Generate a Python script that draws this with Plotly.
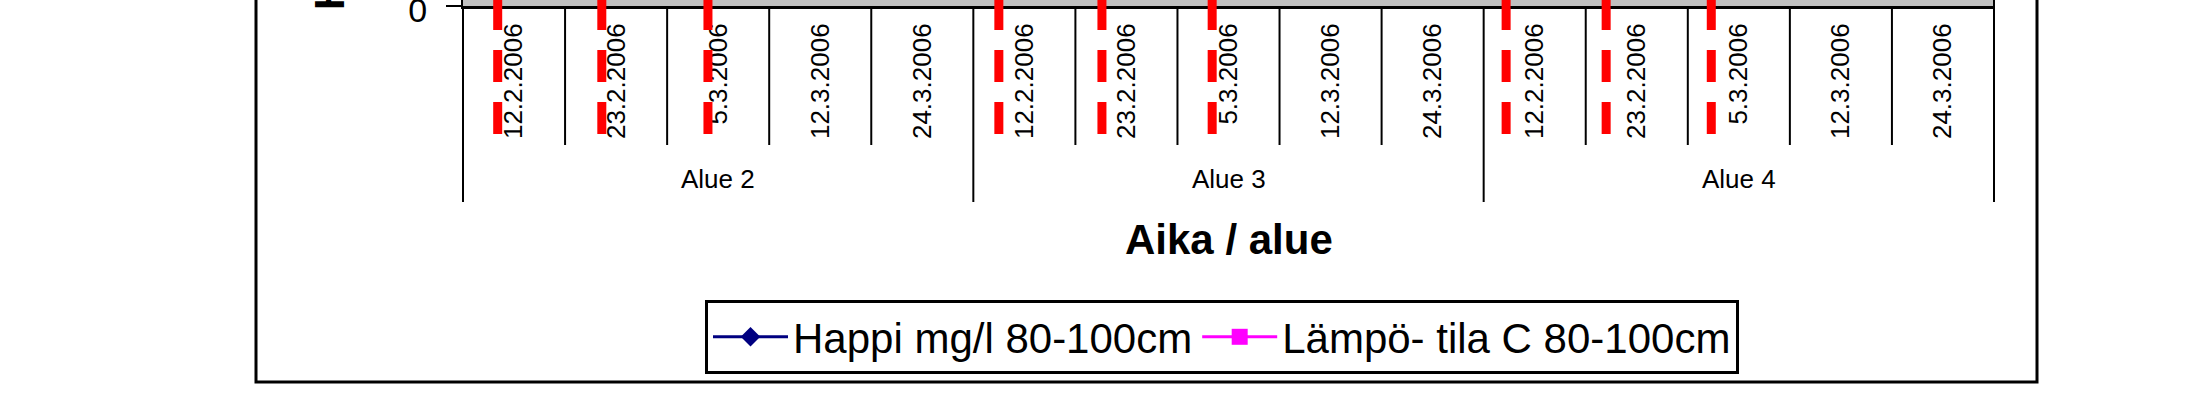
import plotly.graph_objects as go

# ---------------- data ----------------
groups = ["Alue 2", "Alue 3", "Alue 4"]
dates = ["12.2.2006", "23.2.2006", "5.3.2006", "12.3.2006", "24.3.2006"]
series_names = ["Happi mg/l 80-100cm", "Lämpö- tila C 80-100cm"]
# the series values lie above the visible crop of the chart, so none are readable
happi = [None] * 15
lampo = [None] * 15
# red dashed marker lines, position in category-index units
red_line_pos = [-0.16, 0.86, 1.90, 4.75, 5.76, 6.84, 9.72, 10.70, 11.73]
y_title = "Happi mg/l / lämpötila C"
x_title = "Aika / alue"

# ---------------- layout constants (pixels) ----------------
W, H = 2200, 413
PL, PR = 463, 1994          # plot area left / right
AXIS_Y = 6                   # y pixel of the category axis
FONT = "Arial, Liberation Sans, sans-serif"


def px_x(p):
    return (p - PL) / (PR - PL)


def px_y(p):
    return 1 - p / H


cats = [(g, d) for g in groups for d in dates]
idx = list(range(len(cats)))
n = len(cats)
per_group = len(dates)

fig = go.Figure()
fig.add_trace(go.Scatter(
    x=idx, y=happi, mode="lines+markers", name=series_names[0],
    line=dict(color="#000080", width=3),
    marker=dict(symbol="diamond", size=15, color="#000080"),
))
fig.add_trace(go.Scatter(
    x=idx, y=lampo, mode="lines+markers", name=series_names[1],
    line=dict(color="#FF00FF", width=3),
    marker=dict(symbol="square", size=16, color="#FF00FF"),
))

shapes = []
# category separators (short) and group separators (long)
for b in range(n + 1):
    is_group = b % per_group == 0
    y_start = 0 if b == n else AXIS_Y
    shapes.append(dict(
        type="line", xref="x domain", yref="paper",
        x0=b / n, x1=b / n, y0=px_y(y_start), y1=px_y(202 if is_group else 145),
        line=dict(color="black", width=2), layer="above",
    ))
# red dashed lines
for p in red_line_pos:
    shapes.append(dict(
        type="line", xref="x", yref="paper",
        x0=p, x1=p, y0=px_y(-2), y1=px_y(134),
        line=dict(color="#FF0000", width=9, dash="32px,20px"), layer="above",
    ))
# chart outer border
shapes.append(dict(
    type="rect", xref="paper", yref="paper",
    x0=px_x(256), x1=px_x(2037), y0=px_y(382), y1=px_y(-10),
    line=dict(color="black", width=3), fillcolor="rgba(0,0,0,0)", layer="above",
))

annotations = []
for gi, g in enumerate(groups):
    centre = sum(idx[gi * per_group:(gi + 1) * per_group]) / per_group
    annotations.append(dict(
        x=centre, xref="x", y=px_y(179), yref="paper", text=g, showarrow=False,
        xanchor="center", yanchor="middle", font=dict(family=FONT, size=26, color="black"),
    ))
annotations.append(dict(
    x=0.5, xref="x domain", y=px_y(239), yref="paper", text="<b>%s</b>" % x_title,
    showarrow=False, xanchor="center", yanchor="middle",
    font=dict(family=FONT, size=42, color="black"),
))
annotations.append(dict(
    x=px_x(329), xref="paper", y=px_y(12), yref="paper", text="<b>%s</b>" % y_title,
    showarrow=False, xanchor="center", yanchor="bottom", textangle=-90,
    font=dict(family=FONT, size=42, color="black"),
))

fig.update_layout(
    width=W, height=H,
    margin=dict(l=PL, r=W - PR, t=0, b=0, autoexpand=False),
    paper_bgcolor="white", plot_bgcolor="#c0c0c0",
    font=dict(family=FONT, color="black"),
    showlegend=True,
    legend=dict(
        orientation="h", x=px_x(705), y=px_y(300), xanchor="left", yanchor="top",
        bgcolor="white", bordercolor="black", borderwidth=3,
        font=dict(family=FONT, size=42, color="black"),
        itemwidth=75,
    ),
    xaxis=dict(
        range=[-0.5, n - 0.5], tickvals=idx, ticktext=[c[1] for c in cats],
        tickangle=-90, ticks="", showline=True, linecolor="black", linewidth=3,
        showgrid=False, zeroline=False, ticklabelstandoff=4,
        tickfont=dict(family=FONT, size=26, color="black"), fixedrange=True,
    ),
    yaxis=dict(
        domain=[1 - AXIS_Y / H, 1], range=[0, 1], tickvals=[0], ticktext=["0"],
        ticks="outside", ticklen=15, tickwidth=2, tickcolor="black",
        showline=True, linecolor="black", linewidth=2,
        showgrid=False, zeroline=False, ticklabelstandoff=12,
        ticklabelshift=4, ticklabeloverflow="allow",
        tickfont=dict(family=FONT, size=34, color="black"), fixedrange=True,
    ),
    shapes=shapes,
    annotations=annotations,
)

fig.write_html(
    "out.html",
    config={"displayModeBar": False},
    post_script="document.body.style.margin='0px';",
)
